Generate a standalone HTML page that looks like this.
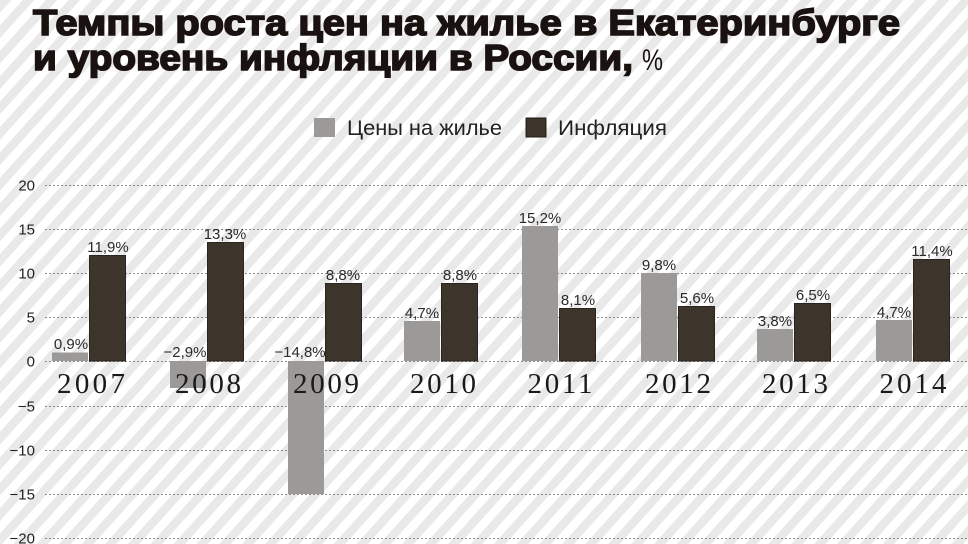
<!DOCTYPE html>
<html>
<head>
<meta charset="utf-8">
<style>
  html,body{margin:0;padding:0;background:#fff;}
  svg{display:block;}
  .t{font-family:"Liberation Sans","Noto Sans CJK SC",sans-serif;}
  .s{font-family:"Liberation Serif","Noto Serif CJK SC",serif;}
</style>
</head>
<body>
<svg width="968" height="544" viewBox="0 0 968 544" xmlns="http://www.w3.org/2000/svg">
  <defs>
    <pattern id="stripes" patternUnits="userSpaceOnUse" width="17" height="17" patternTransform="rotate(42)">
      <rect x="0" y="0" width="17" height="17" fill="#ffffff"/>
      <rect x="0" y="0" width="8.5" height="17" fill="#e9e9e9"/>
    </pattern>
  </defs>
  <rect x="0" y="0" width="968" height="544" fill="url(#stripes)"/>

  <!-- Title -->
  <text class="t" x="33" y="35" font-size="36" font-weight="bold" fill="#1a1210" stroke="#1a1210" stroke-width="1.6" textLength="867" lengthAdjust="spacingAndGlyphs">Темпы роста цен на жилье в Екатеринбурге</text>
  <text class="t" x="33" y="70" font-size="36" font-weight="bold" fill="#1a1210" stroke="#1a1210" stroke-width="1.6" textLength="600" lengthAdjust="spacingAndGlyphs">и уровень инфляции в России,</text>
  <text class="t" x="642" y="70" font-size="30" fill="#1a1210" textLength="21" lengthAdjust="spacingAndGlyphs">%</text>

  <!-- Legend -->
  <rect x="314" y="118" width="21" height="19" fill="#9b9a98"/>
  <text class="t" x="347" y="135" font-size="21" fill="#222" textLength="155" lengthAdjust="spacingAndGlyphs">Цены на жилье</text>
  <rect x="526" y="118" width="20" height="19" fill="#3d342b" stroke="#231e19" stroke-width="1"/>
  <text class="t" x="558" y="135" font-size="21" fill="#222" textLength="109" lengthAdjust="spacingAndGlyphs">Инфляция</text>

  <!-- Gridlines -->
  <g stroke="#8a8a8a" stroke-width="1" stroke-dasharray="2 2">
    <line x1="45" y1="185.5" x2="968" y2="185.5"/>
    <line x1="45" y1="229.5" x2="968" y2="229.5"/>
    <line x1="45" y1="273.5" x2="968" y2="273.5"/>
    <line x1="45" y1="317.5" x2="968" y2="317.5"/>
    <line x1="45" y1="361.5" x2="968" y2="361.5"/>
    <line x1="45" y1="406.5" x2="968" y2="406.5"/>
    <line x1="45" y1="450.5" x2="968" y2="450.5"/>
    <line x1="45" y1="494.5" x2="968" y2="494.5"/>
    <line x1="45" y1="538.5" x2="968" y2="538.5"/>
  </g>

  <!-- Y labels -->
  <g class="t" font-size="15" fill="#222" text-anchor="end">
    <text x="35" y="190.5">20</text>
    <text x="35" y="234.5">15</text>
    <text x="35" y="278.5">10</text>
    <text x="35" y="322.5">5</text>
    <text x="35" y="366.5">0</text>
    <text x="35" y="411.5">−5</text>
    <text x="35" y="455.5">−10</text>
    <text x="35" y="499.5">−15</text>
    <text x="35" y="543.5">−20</text>
  </g>

  <!-- Bars: gray -->
  <g fill="#9b9a98">
    <rect x="52" y="352.5" width="36" height="8.5"/>
    <rect x="170" y="361" width="36" height="27"/>
    <rect x="288" y="361" width="36" height="133"/>
    <rect x="404" y="321" width="36" height="40"/>
    <rect x="522" y="226" width="36" height="135"/>
    <rect x="641" y="273" width="36" height="88"/>
    <rect x="757" y="329" width="36" height="32"/>
    <rect x="876" y="320" width="36" height="41"/>
  </g>
  <!-- Bars: dark -->
  <g fill="#3d342b" stroke="#2a241e" stroke-width="1">
    <rect x="89.5" y="255.5" width="36" height="105.5"/>
    <rect x="207.5" y="242.5" width="36" height="118.5"/>
    <rect x="325.5" y="283.5" width="36" height="77.5"/>
    <rect x="441.5" y="283.5" width="36" height="77.5"/>
    <rect x="559.5" y="308.5" width="36" height="52.5"/>
    <rect x="678.5" y="306.5" width="36" height="54.5"/>
    <rect x="794.5" y="303.5" width="36" height="57.5"/>
    <rect x="913.5" y="259.5" width="36" height="101.5"/>
  </g>

  <!-- Value labels -->
  <g class="t" font-size="15" fill="#2a2a2a" text-anchor="middle">
    <text x="71" y="349">0,9%</text>
    <text x="108" y="252">11,9%</text>
    <text x="185" y="357">−2,9%</text>
    <text x="225" y="239">13,3%</text>
    <text x="300" y="357">−14,8%</text>
    <text x="343" y="280">8,8%</text>
    <text x="422" y="318">4,7%</text>
    <text x="460" y="280">8,8%</text>
    <text x="540" y="223">15,2%</text>
    <text x="578" y="305">8,1%</text>
    <text x="659" y="270">9,8%</text>
    <text x="697" y="303">5,6%</text>
    <text x="775" y="326">3,8%</text>
    <text x="813" y="300">6,5%</text>
    <text x="894" y="317">4,7%</text>
    <text x="932" y="256">11,4%</text>
  </g>

  <!-- Year labels -->
  <g class="s" font-size="29" fill="#1a1a1a" text-anchor="middle">
    <text x="91" y="393" textLength="68" lengthAdjust="spacing">2007</text>
    <text x="208" y="393" textLength="66" lengthAdjust="spacing">2008</text>
    <text x="326" y="393" textLength="66" lengthAdjust="spacing">2009</text>
    <text x="443" y="393" textLength="66" lengthAdjust="spacing">2010</text>
    <text x="560" y="393" textLength="65" lengthAdjust="spacing">2011</text>
    <text x="678" y="393" textLength="66" lengthAdjust="spacing">2012</text>
    <text x="795" y="393" textLength="66" lengthAdjust="spacing">2013</text>
    <text x="913" y="393" textLength="67" lengthAdjust="spacing">2014</text>
  </g>
</svg>
</body>
</html>
